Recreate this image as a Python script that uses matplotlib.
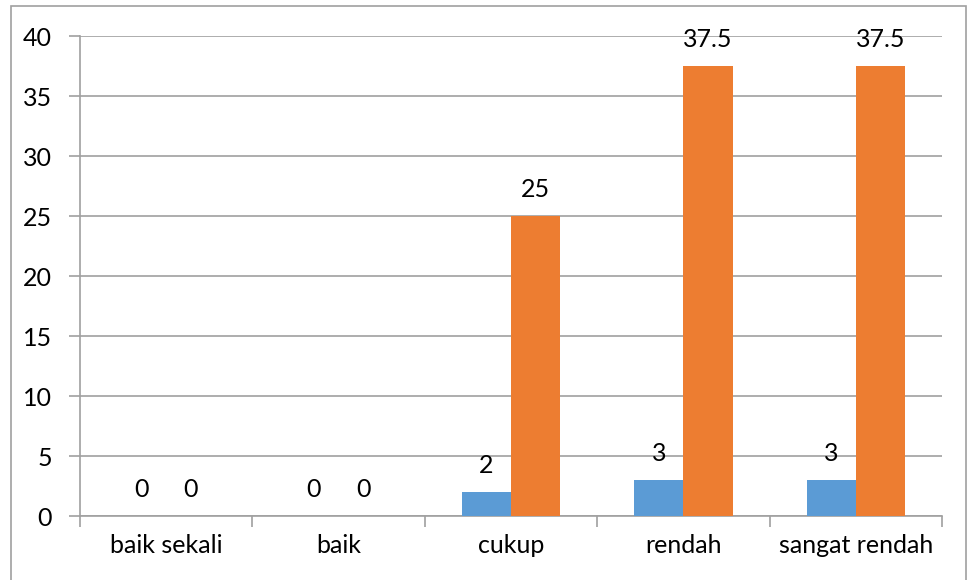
import matplotlib
matplotlib.use("Agg")
import matplotlib.pyplot as plt
from matplotlib.patches import Rectangle
import numpy as np

plt.rcParams['font.family'] = ['Lato', 'DejaVu Sans']

categories = ["baik sekali", "baik", "cukup", "rendah", "sangat rendah"]
series_count = [0, 0, 2, 3, 3]
series_percent = [0, 0, 25, 37.5, 37.5]
y_ticks = [0, 5, 10, 15, 20, 25, 30, 35, 40]

blue = "#5B9BD5"
orange = "#ED7D31"
grid_col = "#A0A0A0"
fs = 18

W, H = 973, 580
fig = plt.figure(figsize=(W / 100, H / 100), dpi=100)
ax = fig.add_axes([80 / W, 1 - 516 / H, (942 - 80) / W, (516 - 36) / H])

# outer chart frame
fig.patches.append(Rectangle((11 / W, -0.05), (966 - 11) / W, 1.05 - 6 / H,
                             transform=fig.transFigure, fill=False,
                             edgecolor=grid_col, linewidth=1.2))

x = np.arange(len(categories))
bw = 1 / 3.5
b1 = ax.bar(x - bw / 2, series_count, width=bw, color=blue, zorder=3)
b2 = ax.bar(x + bw / 2, series_percent, width=bw, color=orange, zorder=3)

for bars, vals in ((b1, series_count), (b2, series_percent)):
    for rect, v in zip(bars, vals):
        ax.annotate(f"{v:g}", (rect.get_x() + rect.get_width() / 2, v),
                    xytext=(0, 19), textcoords="offset points",
                    ha="center", va="center", fontsize=fs, color="black", zorder=4)

ax.set_xlim(-0.5, len(categories) - 0.5)
ax.set_ylim(0, 40)
ax.set_yticks(y_ticks)
ax.set_yticklabels([str(t) for t in y_ticks], fontsize=fs)
ax.set_xticks(x)
ax.set_xticklabels(categories, fontsize=fs)
ax.set_xticks(np.arange(-0.5, len(categories)), minor=True)

ax.tick_params(axis="x", which="major", length=0, pad=13)
ax.tick_params(axis="x", which="minor", length=8, color=grid_col, width=1.2, direction="out")
ax.tick_params(axis="y", length=8, color=grid_col, width=1.2, pad=12)

ax.yaxis.grid(True, color=grid_col, linewidth=1.2, zorder=0)
ax.set_axisbelow(True)
for s in ("top", "right"):
    ax.spines[s].set_visible(False)
for s in ("left", "bottom"):
    ax.spines[s].set_color(grid_col)
    ax.spines[s].set_linewidth(1.2)

fig.savefig("out.png", dpi=100)
